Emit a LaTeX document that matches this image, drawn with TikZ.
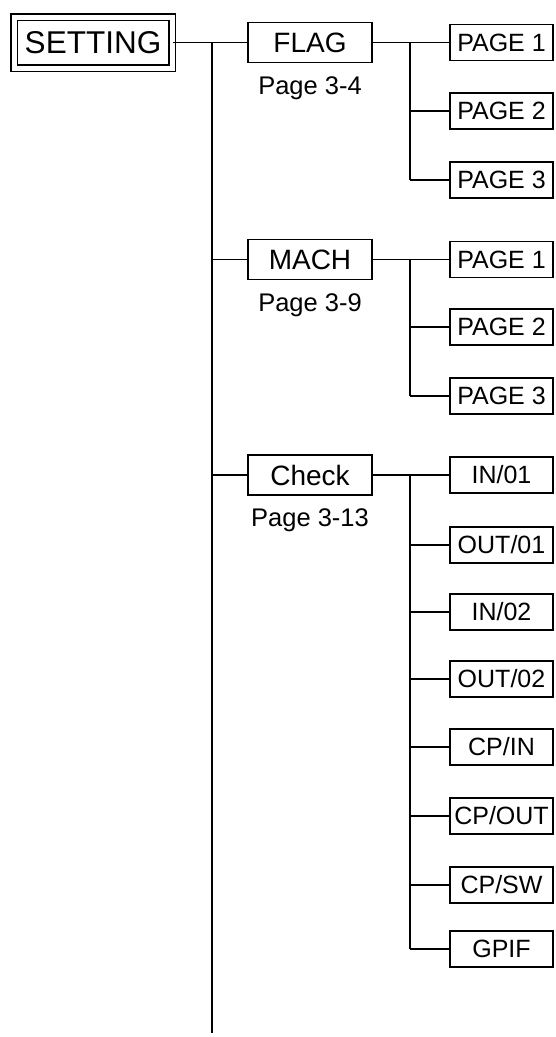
\documentclass[tikz,border=0pt]{standalone}
\usepackage{fontspec}
\setmainfont{Liberation Sans}
\usetikzlibrary{positioning}

\begin{document}
\begin{tikzpicture}[x=1pt,y=1pt,line width=1.8pt,
	rootbox/.style={draw,double,double distance=5pt,minimum width=158pt,minimum height=51pt,inner sep=0pt,font=\fontsize{31.5}{34}\selectfont},
	menubox/.style={draw,minimum width=124pt,minimum height=40pt,inner sep=0pt,font=\fontsize{28}{30}\selectfont},
	leafbox/.style={draw,minimum width=103pt,minimum height=36pt,inner sep=0pt,font=\fontsize{25}{27}\selectfont},
	pagelbl/.style={inner sep=0pt,font=\fontsize{25.5}{27}\selectfont}]
					\useasboundingbox (0,0) rectangle (555,-1037);
					\node[rootbox] (setting) at (93,-42.5) {SETTING};
					\coordinate (spine) at (212,-42.5);
					\coordinate (spineend) at (212,-1033);
					\draw (setting.east) -- (spine) -- (spineend);
					\foreach \nm/\txt/\y/\pg in {flag/FLAG/42.5/3-4,mach/MACH/259.5/3-9,check/Check/475/3-13}{
						\node[menubox] (\nm) at (310,-\y) {\txt};
						\node[pagelbl,below=12pt of \nm] (\nm-lbl) {Page \pg};
						\coordinate (\nm-fork) at (410,-\y);
						\draw (spine |- \nm) -- (\nm.west);
						\draw (\nm.east) -- (\nm-fork);
					}
					\foreach \i/\y in {1/42.5,2/111,3/180}{
						\node[leafbox] (flag-p\i) at (501.5,-\y) {PAGE \i};
						\draw (flag-fork |- flag-p\i) -- (flag-p\i.west);
					}
					\draw (flag-fork) -- (flag-fork |- flag-p3);
					\foreach \i/\y in {1/259.5,2/327,3/396}{
						\node[leafbox] (mach-p\i) at (501.5,-\y) {PAGE \i};
						\draw (mach-fork |- mach-p\i) -- (mach-p\i.west);
					}
					\draw (mach-fork) -- (mach-fork |- mach-p3);
					\foreach \nm/\txt/\y in {in1/IN\slash 01/475,out1/OUT\slash 01/545,in2/IN\slash 02/612,out2/OUT\slash 02/679,cpin/CP\slash IN/747,cpout/CP\slash OUT/816,cpsw/CP\slash SW/885,gpif/GPIF/949}{
						\node[leafbox] (check-\nm) at (501.5,-\y) {\txt};
						\draw (check-fork |- check-\nm) -- (check-\nm.west);
					}
					\draw (check-fork) -- (check-fork |- check-gpif);
				\end{tikzpicture}
\end{document}
